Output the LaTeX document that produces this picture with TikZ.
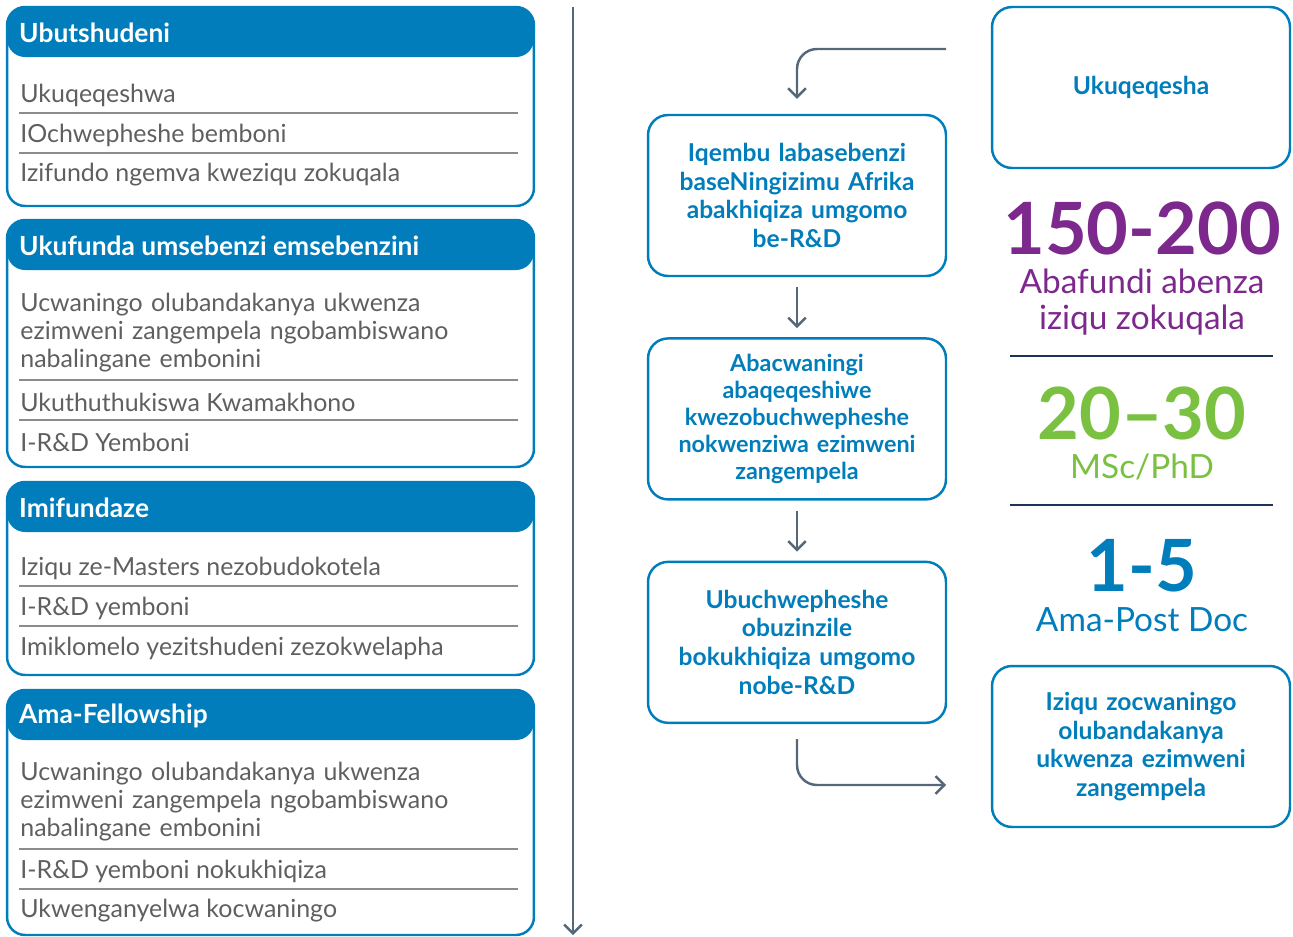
\documentclass[tikz,border=0pt]{standalone}
\usepackage{fontspec}
\setmainfont{Lato}
\usetikzlibrary{arrows.meta,positioning}
\definecolor{ubblue}{RGB}{0,125,186}
\definecolor{flowgray}{RGB}{84,104,122}
\definecolor{sepgray}{RGB}{140,140,140}
\definecolor{bodygray}{RGB}{95,95,95}
\definecolor{statpurple}{RGB}{125,40,140}
\definecolor{statgreen}{RGB}{122,193,66}
\definecolor{statnavy}{RGB}{28,52,90}

\tikzset{
  panel/.style={draw=ubblue, line width=1.4pt, rounded corners=0.36cm,
    minimum width=10.54cm, inner sep=0pt,
    path picture={\fill[ubblue] (path picture bounding box.north west)
      rectangle ([yshift=-1cm]path picture bounding box.north east);}},
  headtxt/.style={anchor=west, inner sep=0pt, text=white,
    font=\fontsize{15}{17}\selectfont\bfseries},
  item/.style={anchor=west, inner sep=0pt, text=bodygray, align=left,
    font=\fontsize{14.2}{15.9}\selectfont},
  flowbox/.style={draw=ubblue, line width=1.4pt, rounded corners=0.4cm,
    minimum width=5.96cm, minimum height=3.22cm, text width=5.6cm,
    align=center, text=ubblue, font=\fontsize{14}{16.4}\selectfont\bfseries},
  flow/.style={draw=flowgray, line width=1.4pt,
    -{Straight Barb[length=5pt,width=10pt,line width=1.4pt]}},
  sep/.style={draw=sepgray, line width=0.8pt},
  rule/.style={draw=statnavy, line width=1.6pt},
  bignum/.style={inner sep=0pt, font=\fontsize{41}{41}\selectfont\bfseries},
  statlbl/.style={inner sep=0pt, align=center, font=\fontsize{19}{20}\selectfont}
}

\begin{document}
\begin{tikzpicture}[x=0.02cm, y=-0.02cm]
  \useasboundingbox (0,0) rectangle (1293,936);

  % left column: four panels with blue headers
  \node[panel, minimum height=3.98cm] (stud) at (270.5,106.5) {};
  \node[headtxt] (studhead) at ([shift={(0.26cm,-0.54cm)}]stud.north west) {Ubutshudeni};
  \node[item] (stud1) at (20,95) {Ukuqeqeshwa};
  \node[item] (stud2) at (20,135) {IOchwepheshe bemboni};
  \node[item] (stud3) at (20,175) {Izifundo ngemva kweziqu zokuqala};

  \node[panel, minimum height=4.94cm] (work) at (270.5,343.5) {};
  \node[headtxt] (workhead) at ([shift={(0.26cm,-0.54cm)}]work.north west) {Ukufunda umsebenzi emsebenzini};
  \node[item, text width=10cm] (work1) at (20,333)
    {Ucwaningo olubandakanya ukwenza\\ezimweni zangempela ngobambiswano\\nabalingane embonini};
  \node[item] (work2) at (20,402) {Ukuthuthukiswa Kwamakhono};
  \node[item] (work3) at (20,442) {I-R\&D Yemboni};

  \node[panel, minimum height=3.86cm] (bursary) at (270.5,578.5) {};
  \node[headtxt] (bursaryhead) at ([shift={(0.26cm,-0.54cm)}]bursary.north west) {Imifundaze};
  \node[item] (bursary1) at (20,568) {Iziqu ze-Masters nezobudokotela};
  \node[item] (bursary2) at (20,608) {I-R\&D yemboni};
  \node[item] (bursary3) at (20,648) {Imiklomelo yezitshudeni zezokwelapha};

  \node[panel, minimum height=4.90cm] (fellow) at (270.5,812.5) {};
  \node[headtxt] (fellowhead) at ([shift={(0.26cm,-0.54cm)}]fellow.north west) {Ama-Fellowship};
  \node[item, text width=10cm] (fellow1) at (20,802)
    {Ucwaningo olubandakanya ukwenza\\ezimweni zangempela ngobambiswano\\nabalingane embonini};
  \node[item] (fellow2) at (20,871) {I-R\&D yemboni nokukhiqiza};
  \node[item] (fellow3) at (20,911) {Ukwenganyelwa kocwaningo};

  \foreach \y in {113,153,380,420,586,626,849,889}
    \draw[sep] (19,\y) -- (518,\y);

  % divider
  \coordinate (railtop) at (573,7);
  \coordinate (railbot) at (573,935);
  \draw[flow] (railtop) -- (railbot);

  % middle flow
  \node[flowbox] (iqembu) at (797,195.5)
    {Iqembu labasebenzi\\baseNingizimu Afrika\\abakhiqiza umgomo\\be-R\&D};
  \node[flowbox, below=1.2cm of iqembu, font=\fontsize{13.3}{15.3}\selectfont\bfseries] (abacw)
    {Abacwaningi\\abaqeqeshiwe\\kwezobuchwepheshe\\nokwenziwa ezimweni\\zangempela};
  \node[flowbox, below=1.2cm of abacw] (ubuch)
    {Ubuchwepheshe\\obuzinzile\\bokukhiqiza umgomo\\nobe-R\&D};

  % right column
  \node[flowbox] (ukuq) at (1141,87.5) {Ukuqeqesha};
  \node[flowbox] (iziqu) at (1141,746.5)
    {Iziqu zocwaningo\\olubandakanya\\ukwenza ezimweni\\zangempela};

  \coordinate (fromtop) at (946,49);
  \coordinate (toiziqu) at (946,785);
  \draw[flow, rounded corners=0.4cm, shorten >=0.3cm] (fromtop) -| (iqembu.north);
  \draw[flow, shorten <=0.2cm, shorten >=0.18cm] (iqembu) -- (abacw);
  \draw[flow, shorten <=0.2cm, shorten >=0.18cm] (abacw) -- (ubuch);
  \draw[flow, rounded corners=0.4cm, shorten <=0.3cm] (ubuch.south) |- (toiziqu);

  % figures
  \node[bignum, text=statpurple] (num1) at (1142,228) {150-200};
  \node[statlbl, text=statpurple] (lbl1) at (1142,302) {Abafundi abenza\\iziqu zokuqala};
  \draw[rule] (1010,356) -- (1273,356);
  \node[bignum, text=statgreen] (num2) at (1142,413) {20–30};
  \node[statlbl, text=statgreen] (lbl2) at (1142,467) {MSc/PhD};
  \draw[rule] (1010,505) -- (1273,505);
  \node[bignum, text=ubblue] (num3) at (1142,566) {1-5};
  \node[statlbl, text=ubblue] (lbl3) at (1142,620) {Ama-Post Doc};
\end{tikzpicture}
\end{document}
